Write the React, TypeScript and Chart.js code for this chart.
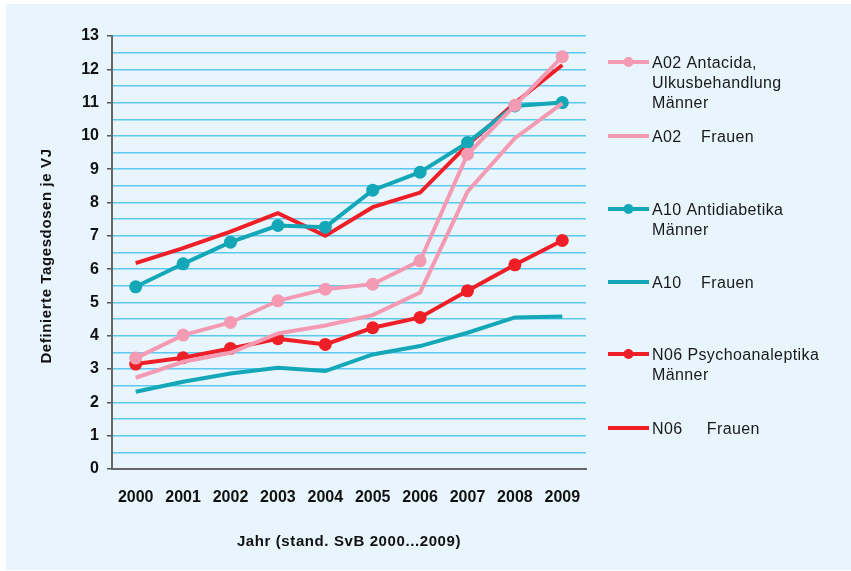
import { useEffect, useRef } from 'react';
import { Chart, registerables } from 'chart.js';

Chart.register(...registerables);

const years = ['2000', '2001', '2002', '2003', '2004', '2005', '2006', '2007', '2008', '2009'];
const a02Maenner = [3.33, 4.02, 4.40, 5.05, 5.40, 5.55, 6.25, 9.45, 10.92, 12.38];
const a02Frauen = [2.74, 3.22, 3.49, 4.07, 4.31, 4.62, 5.30, 8.33, 9.93, 10.98];
const a10Maenner = [5.47, 6.16, 6.81, 7.31, 7.26, 8.37, 8.91, 9.80, 10.90, 11.00];
const a10Frauen = [2.32, 2.62, 2.87, 3.04, 2.94, 3.44, 3.69, 4.09, 4.55, 4.58];
const n06Maenner = [3.15, 3.34, 3.62, 3.91, 3.74, 4.24, 4.55, 5.35, 6.13, 6.86];
const n06Frauen = [6.18, 6.63, 7.13, 7.68, 7.00, 7.86, 8.30, 9.73, 10.99, 12.13];

const legendLabels = [
  ['A02 Antacida,', 'Ulkusbehandlung', 'Männer'],
  ['A02    Frauen'],
  ['A10 Antidiabetika', 'Männer'],
  ['A10    Frauen'],
  ['N06 Psychoanaleptika', 'Männer'],
  ['N06     Frauen'],
];
const yTitle = 'Definierte Tagesdosen je VJ';
const xTitle = 'Jahr (stand. SvB 2000...2009)';

const PINK = '#f49bb3';
const TEAL = '#14a7b7';
const RED = '#ee1f26';
const FONT = '"Liberation Sans", Arial, sans-serif';

const legendY = [62, 136, 209, 282, 354, 428];

export default function App() {
  const ref = useRef<HTMLCanvasElement>(null);

  useEffect(() => {
    document.body.style.margin = '0';
    const canvas = ref.current!;
    const overlay = {
      id: 'overlay',
      afterDraw(chart: any) {
        const ctx = chart.ctx as CanvasRenderingContext2D;
        ctx.save();
        // axis titles
        ctx.fillStyle = '#111';
        ctx.font = `bold 15px ${FONT}`;
        (ctx as any).letterSpacing = '0.6px';
        ctx.textAlign = 'center';
        ctx.textBaseline = 'middle';
        const ca = chart.chartArea;
        ctx.fillText(xTitle, (ca.left + ca.right) / 2, 542);
        ctx.save();
        ctx.translate(47, 256);
        ctx.rotate(-Math.PI / 2);
        ctx.fillText(yTitle, 0, 0);
        ctx.restore();
        // legend
        chart.data.datasets.forEach((ds: any, i: number) => {
          const y = legendY[i];
          ctx.strokeStyle = ds.borderColor;
          ctx.lineWidth = 4;
          ctx.beginPath();
          ctx.moveTo(608, y);
          ctx.lineTo(649, y);
          ctx.stroke();
          if (ds.pointRadius > 0) {
            ctx.fillStyle = ds.borderColor;
            ctx.beginPath();
            ctx.arc(628.5, y, 5, 0, Math.PI * 2);
            ctx.fill();
          }
          ctx.fillStyle = '#1a1a1a';
          ctx.font = `16px ${FONT}`;
          (ctx as any).letterSpacing = '0.4px';
          ctx.textAlign = 'left';
          ctx.textBaseline = 'middle';
          legendLabels[i].forEach((line, j) => {
            ctx.fillText(line, 652, y + 2 + j * 20);
          });
        });
        (ctx as any).letterSpacing = '0px';
        ctx.restore();
      },
    };

    const mk = (label: string, data: number[], color: string, markers: boolean) => ({
      label,
      data,
      borderColor: color,
      backgroundColor: color,
      borderWidth: 4,
      pointRadius: markers ? 6.5 : 0,
      pointHoverRadius: markers ? 6.5 : 0,
      pointBackgroundColor: color,
      pointBorderWidth: 0,
      tension: 0,
      fill: false,
    });

    const chart = new Chart(canvas, {
      type: 'line',
      data: {
        labels: years,
        datasets: [
          mk('A02 Antacida, Ulkusbehandlung Männer', a02Maenner, PINK, true),
          mk('A02 Frauen', a02Frauen, PINK, false),
          mk('A10 Antidiabetika Männer', a10Maenner, TEAL, true),
          mk('A10 Frauen', a10Frauen, TEAL, false),
          mk('N06 Psychoanaleptika Männer', n06Maenner, RED, true),
          mk('N06 Frauen', n06Frauen, RED, false),
        ],
      },
      options: {
        animation: false,
        responsive: false,
        maintainAspectRatio: false,
        layout: { padding: { left: 0, top: 36, right: 265, bottom: 0 } },
        plugins: {
          legend: { display: false },
          tooltip: { enabled: false },
        },
        scales: {
          x: {
            type: 'category',
            offset: true,
            grid: { display: false, drawTicks: false },
            border: { display: true, color: '#666', width: 2 },
            ticks: {
              color: '#111',
              font: { family: FONT, size: 16, weight: 'bold' },
              padding: 19,
              maxRotation: 0,
              autoSkip: false,
            },
            afterFit: (s: any) => {
              s.height = 102;
            },
          },
          y: {
            type: 'linear',
            min: 0,
            max: 13,
            grid: {
              color: '#5cc9f0',
              lineWidth: 1.5,
              tickLength: 5,
              tickColor: (c: any) => (c.tick && c.tick.value % 1 === 0 ? '#555' : 'rgba(0,0,0,0)'),
              tickWidth: 1.5,
            },
            border: { display: true, color: '#666', width: 2 },
            ticks: {
              stepSize: 0.5,
              autoSkip: false,
              color: '#111',
              padding: 8,
              font: { family: FONT, size: 16, weight: 'bold' },
              callback: (v: any) => (Number(v) % 1 === 0 ? String(v) : ''),
            },
            afterFit: (s: any) => {
              s.width = 112;
            },
          },
        },
      },
      plugins: [overlay],
    } as any);

    return () => chart.destroy();
  }, []);

  return (
    <div style={{ position: 'relative', width: 851, height: 571, background: '#ffffff' }}>
      <div
        style={{
          position: 'absolute',
          left: 6,
          top: 4,
          right: 0,
          bottom: 1,
          background: '#e8f5fc',
        }}
      />
      <canvas
        ref={ref}
        width={851}
        height={571}
        style={{ position: 'absolute', left: 0, top: 0, width: 851, height: 571 }}
      />
    </div>
  );
}
